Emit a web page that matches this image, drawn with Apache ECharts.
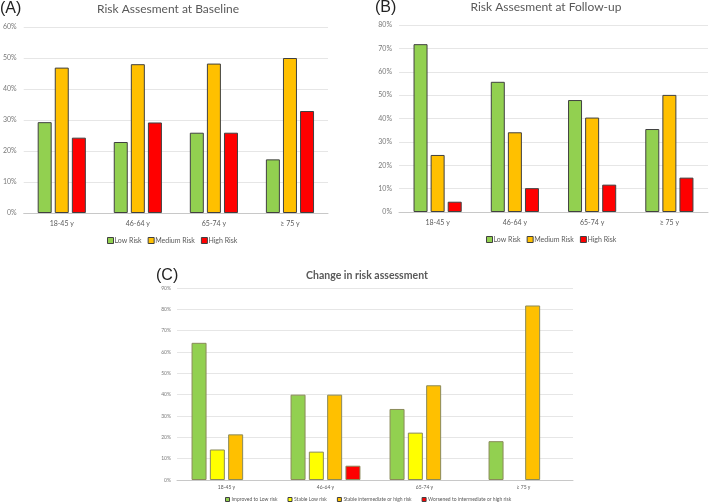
<!DOCTYPE html>
<html>
<head>
<meta charset="utf-8">
<script src="https://cdn.jsdelivr.net/npm/echarts@6/dist/echarts.min.js"></script>
<style>html,body{margin:0;padding:0;background:#fff}#c{width:709px;height:504px}</style>
</head>
<body>
<div id="c"></div>
<script>
const ageGroups = ['18-45 y', '46-64 y', '65-74 y', '\u2265 75 y'];
const riskNames = ['Low Risk', 'Medium Risk', 'High Risk'];
const baselineLow = [29.3, 22.9, 25.9, 17.3];
const baselineMedium = [46.9, 48.0, 48.2, 50.0];
const baselineHigh = [24.3, 29.2, 25.9, 32.9];
const followLow = [71.8, 55.7, 47.9, 35.5];
const followMedium = [24.4, 34.1, 40.4, 50.1];
const followHigh = [4.4, 10.2, 11.7, 14.7];
const changeNames = ['Improved to Low risk', 'Stable Low risk', 'Stable intermediate or high risk', 'Worsened to intermediate or high risk'];
const changeImproved = [64.3, 40.0, 33.3, 18.2];
const changeStableLow = [14.3, 13.3, 22.2, null];
const changeStableHigh = [21.4, 40.0, 44.4, 81.8];
const changeWorsened = [null, 6.7, null, null];

const riskColors = ['#92D050', '#FFC000', '#FF0000'];
const changeColors = ['#92D050', '#FFFF00', '#FFC000', '#FF0000'];
const txt = '#595959';
const ytxt = '#7a7a7a';
const font = 'Lato, "Open Sans", sans-serif';
const pfont = '"Liberation Sans", Arial, sans-serif';

function xAx(gi, fs, margin) {
  return {type: 'category', gridIndex: gi, data: ageGroups,
    axisLine: {lineStyle: {color: '#c8c8c8'}}, axisTick: {show: false},
    axisLabel: {color: txt, fontSize: fs, fontFamily: font, margin: margin}};
}
function yAx(gi, max, fs, margin) {
  return {type: 'value', gridIndex: gi, min: 0, max: max, interval: 10,
    axisLine: {show: false}, axisTick: {show: false},
    splitLine: {lineStyle: {color: '#e6e6e6'}},
    axisLabel: {color: ytxt, fontSize: fs, fontFamily: font, formatter: '{value}%', margin: margin}};
}
function bar(name, data, gi, color, w, gap, bc) {
  return {type: 'bar', name: name, data: data, xAxisIndex: gi, yAxisIndex: gi,
    barWidth: w, barGap: gap,
    itemStyle: {color: color, borderColor: bc, borderWidth: 1},
    emphasis: {disabled: true}};
}

const series = [];
[baselineLow, baselineMedium, baselineHigh].forEach((d, i) => series.push(bar(riskNames[i], d, 0, riskColors[i], 14, '22%', '#404040')));
[followLow, followMedium, followHigh].forEach((d, i) => series.push(bar(riskNames[i], d, 1, riskColors[i], 14, '22%', '#404040')));
[changeImproved, changeStableLow, changeStableHigh, changeWorsened].forEach((d, i) => series.push(bar(changeNames[i], d, 2, changeColors[i], 15, '22%', '#8a8a5a')));

const legendCommon = {icon: 'rect', itemWidth: 6, itemHeight: 6, selectedMode: false, padding: 0,
  itemStyle: {borderColor: '#404040', borderWidth: 1}};

const option = {
  animation: false,
  backgroundColor: '#ffffff',
  title: [
    {text: '(A)', left: 0, top: 1, padding: 0, textStyle: {fontSize: 16, fontWeight: 'normal', color: '#222', fontFamily: pfont}},
    {text: 'Risk Assesment at Baseline', left: 168, top: 3, padding: 0, textAlign: 'center', textStyle: {fontSize: 12, fontWeight: 'normal', color: txt, fontFamily: font}},
    {text: '(B)', left: 375, top: 0, padding: 0, textStyle: {fontSize: 16, fontWeight: 'normal', color: '#222', fontFamily: pfont}},
    {text: 'Risk Assesment at Follow-up', left: 546, top: 1, padding: 0, textAlign: 'center', textStyle: {fontSize: 12, fontWeight: 'normal', color: txt, fontFamily: font}},
    {text: '(C)', left: 156, top: 268, padding: 0, textStyle: {fontSize: 16, fontWeight: 'normal', color: '#222', fontFamily: pfont}},
    {text: 'Change in risk assessment', left: 367, top: 270, padding: 0, textAlign: 'center', textStyle: {fontSize: 10.5, fontWeight: 'bold', color: txt, fontFamily: font}}
  ],
  legend: [
    Object.assign({}, legendCommon, {data: riskNames, left: 107, top: 237, itemGap: 6, textStyle: {fontSize: 7, color: txt, fontFamily: font, padding: [0,0,0,-4]}}),
    Object.assign({}, legendCommon, {data: riskNames, left: 486, top: 236, itemGap: 6, textStyle: {fontSize: 7, color: txt, fontFamily: font, padding: [0,0,0,-4]}}),
    Object.assign({}, legendCommon, {data: changeNames, left: 225, top: 497, itemGap: 10, itemWidth: 4, itemHeight: 4, textStyle: {fontSize: 5, color: txt, fontFamily: font, padding: [0,0,0,-3]}})
  ],
  grid: [
    {left: 22, right: 381, top: 27, bottom: 291},
    {left: 399, right: 1, top: 25, bottom: 292},
    {left: 177, right: 136, top: 288, bottom: 24}
  ],
  xAxis: [xAx(0, 7, 7), xAx(1, 7, 7), xAx(2, 5, 5)],
  yAxis: [yAx(0, 60, 7, 7), yAx(1, 80, 7, 7), yAx(2, 90, 5, 6)],
  series: series
};
const chart = echarts.init(document.getElementById('c'), null, {renderer: 'canvas'});
chart.setOption(option);
</script>
</body>
</html>
